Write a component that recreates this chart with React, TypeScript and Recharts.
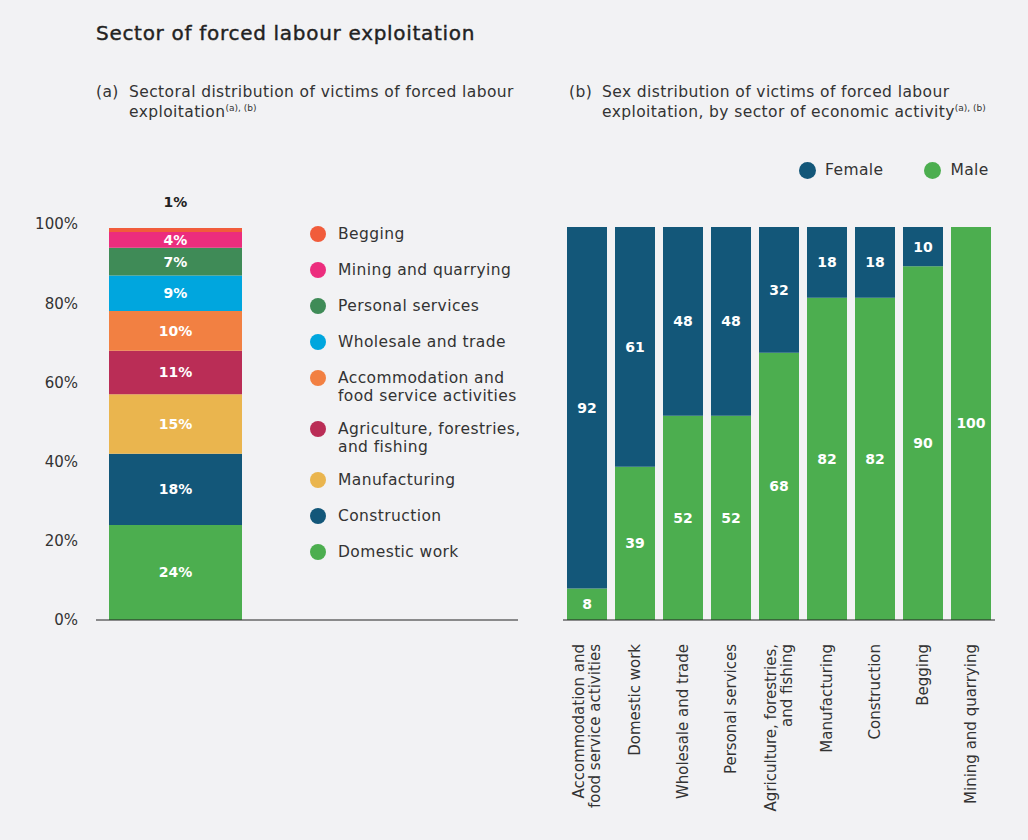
import React from "react";
import { Bar, BarChart, LabelList, XAxis, YAxis } from "recharts";

// (a) share of victims by sector, bottom to top of the stacked bar
const sectors = [
  "Domestic work",
  "Construction",
  "Manufacturing",
  "Agriculture, forestries,\nand fishing",
  "Accommodation and\nfood service activities",
  "Wholesale and trade",
  "Personal services",
  "Mining and quarrying",
  "Begging",
];
const sectorShares = [24, 18, 15, 11, 10, 9, 7, 4, 1];
const sectorColors = ["#4cae4f", "#135779", "#eab54e", "#ba2d56", "#f28042", "#00a6de", "#3f8b57", "#ec2d7d", "#f15c3b"];
const shareTicks = [0, 20, 40, 60, 80, 100];

// (b) sex split by sector
const sexSectors = [
  "Accommodation and\nfood service activities",
  "Domestic work",
  "Wholesale and trade",
  "Personal services",
  "Agriculture, forestries,\nand fishing",
  "Manufacturing",
  "Construction",
  "Begging",
  "Mining and quarrying",
];
const femaleShares = [92, 61, 48, 48, 32, 18, 18, 10, 0];
const maleShares = [8, 39, 52, 52, 68, 82, 82, 90, 100];

const FONT = "'DejaVu Sans', sans-serif";
const BG = "#f2f2f4";
const FEMALE = "#135779";
const MALE = "#4cae4f";

const shareRow: Record<string, string | number> = { name: "all" };
sectors.forEach((_, i) => (shareRow[`s${i}`] = sectorShares[i]));
const shareData = [shareRow];

const sexData = sexSectors.map((name, i) => ({ name, female: femaleShares[i], male: maleShares[i] }));

function RotatedTick(props: any) {
  const { x, y, payload } = props;
  const lines = String(payload.value).split("\n");
  const start = -((lines.length - 1) * 16) / 2;
  return (
    <g transform={`translate(${x},${y}) rotate(-90)`}>
      {lines.map((l, i) => (
        <text key={i} x={-16} y={start + i * 16} textAnchor="end" dominantBaseline="central" fill="#333" fontSize={15} fontFamily={FONT}>
          {l}
        </text>
      ))}
    </g>
  );
}

const dot = (c: string, size = 16): React.CSSProperties => ({
  width: size,
  height: size,
  borderRadius: "50%",
  background: c,
  flex: "0 0 auto",
});

const sup: React.CSSProperties = { fontSize: 9, position: "relative", top: -6, lineHeight: 0, letterSpacing: 0 };
const body: React.CSSProperties = { fontSize: 15.5, letterSpacing: 0.4 };

export default function App() {
  const legendOrder = sectors.map((s, i) => ({ s, c: sectorColors[i] })).reverse();
  return (
    <div style={{ position: "absolute", left: 0, top: 0, width: 1028, height: 840, background: BG, fontFamily: FONT, color: "#333" }}>
      <div
        style={{
          position: "absolute",
          left: 96,
          top: 21,
          fontSize: 20,
          letterSpacing: 0.7,
          color: "#222",
          WebkitTextStroke: "0.4px #222",
        }}
      >
        Sector of forced labour exploitation
      </div>

      <div style={{ position: "absolute", left: 96, top: 82, ...body, lineHeight: "20px", display: "flex" }}>
        <span style={{ width: 33 }}>(a)</span>
        <span>
          Sectoral distribution of victims of forced labour
          <br />
          exploitation<span style={sup}>(a), (b)</span>
        </span>
      </div>
      <div style={{ position: "absolute", left: 569, top: 82, ...body, lineHeight: "20px", display: "flex" }}>
        <span style={{ width: 33 }}>(b)</span>
        <span>
          Sex distribution of victims of forced labour
          <br />
          exploitation, by sector of economic activity<span style={sup}>(a), (b)</span>
        </span>
      </div>

      <div style={{ position: "absolute", left: 0, top: 190 }}>
        <BarChart width={530} height={450} data={shareData} margin={{ top: 34, right: 12, left: 0, bottom: 19 }} barCategoryGap={0}>
          <YAxis
            domain={[0, 100]}
            ticks={shareTicks}
            tickFormatter={(v) => `${v}%`}
            axisLine={false}
            tickLine={false}
            tickSize={0}
            tickMargin={18}
            width={96}
            tick={{ fill: "#333", fontSize: 15, fontFamily: FONT }}
          />
          <XAxis dataKey="name" tick={false} tickLine={false} height={1} axisLine={{ stroke: "#222" }} padding={{ left: 13, right: 276 }} />
          {sectors.map((s, i) => (
            <Bar key={s} dataKey={`s${i}`} stackId="a" fill={sectorColors[i]} isAnimationActive={false}>
              <LabelList
                dataKey={`s${i}`}
                position={i === sectors.length - 1 ? "top" : "center"}
                offset={i === sectors.length - 1 ? 21 : 5}
                formatter={(v: any) => `${v}%`}
                fill={i === sectors.length - 1 ? "#222" : "#fff"}
                fontSize={14}
                fontWeight="bold"
                fontFamily={FONT}
              />
            </Bar>
          ))}
        </BarChart>
      </div>

      <div style={{ position: "absolute", left: 310, top: 225, ...body }}>
        {legendOrder.map(({ s, c }) => {
          const twoLines = s.includes("\n");
          return (
            <div key={s} style={{ display: "flex", alignItems: "flex-start", marginBottom: twoLines ? 15 : 18 }}>
              <div style={{ ...dot(c), marginTop: 1, marginRight: 12 }} />
              <div style={{ whiteSpace: "pre-line", lineHeight: "18px" }}>{s}</div>
            </div>
          );
        })}
      </div>

      <div style={{ position: "absolute", left: 799, top: 161, ...body, display: "flex", alignItems: "center" }}>
        <div style={{ ...dot(FEMALE, 17), marginRight: 9 }} />
        <span>Female</span>
        <div style={{ ...dot(MALE, 17), marginLeft: 41, marginRight: 9 }} />
        <span>Male</span>
      </div>

      <div style={{ position: "absolute", left: 540, top: 190 }}>
        <BarChart width={470} height={640} data={sexData} margin={{ top: 37, right: 15, left: 23, bottom: 0 }} barCategoryGap={4}>
          <XAxis dataKey="name" interval={0} tickLine={false} axisLine={{ stroke: "#222" }} height={210} tick={<RotatedTick />} />
          <YAxis hide domain={[0, 100]} />
          <Bar dataKey="male" stackId="s" fill={MALE} isAnimationActive={false}>
            <LabelList dataKey="male" position="center" fill="#fff" fontSize={14} fontWeight="bold" fontFamily={FONT} formatter={(v: any) => (v ? v : "")} />
          </Bar>
          <Bar dataKey="female" stackId="s" fill={FEMALE} isAnimationActive={false}>
            <LabelList dataKey="female" position="center" fill="#fff" fontSize={14} fontWeight="bold" fontFamily={FONT} formatter={(v: any) => (v ? v : "")} />
          </Bar>
        </BarChart>
      </div>
    </div>
  );
}
